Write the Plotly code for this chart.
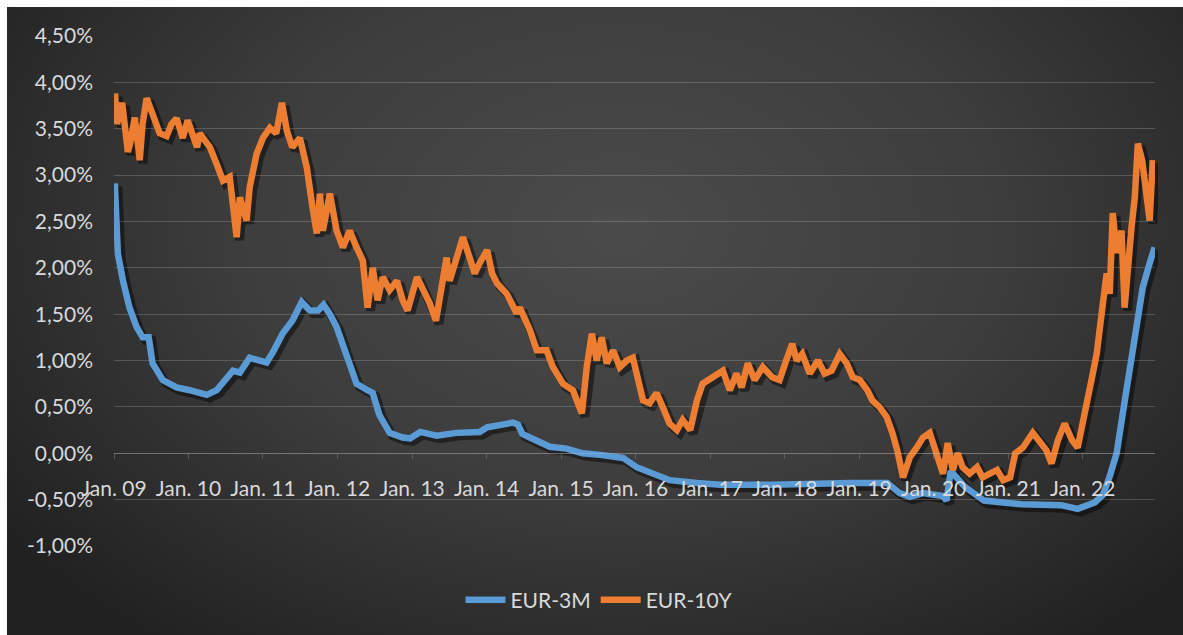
import base64
import plotly.graph_objects as go

# EUR 3-month rate (% p.a.)
eur3m_dates = [
    "2009-01-05", "2009-01-20", "2009-02-14", "2009-03-18", "2009-04-22", "2009-05-21",
    "2009-06-20", "2009-07-09", "2009-08-28", "2009-11-04", "2010-01-07", "2010-04-01",
    "2010-05-19", "2010-07-07", "2010-08-07", "2010-09-10", "2010-10-28", "2010-12-16",
    "2011-01-19", "2011-02-19", "2011-04-07", "2011-05-25", "2011-07-10", "2011-08-19",
    "2011-09-28", "2011-10-25", "2011-11-25", "2011-12-28", "2012-02-16", "2012-04-04",
    "2012-05-28", "2012-06-22", "2012-07-25", "2012-09-13", "2012-11-16", "2012-12-22",
    "2013-02-10", "2013-05-01", "2013-08-07", "2013-11-28", "2014-01-04", "2014-03-19",
    "2014-05-10", "2014-06-04", "2014-06-25", "2014-08-01", "2014-09-19", "2014-11-07",
    "2015-01-28", "2015-04-16", "2015-07-22", "2015-11-01", "2016-01-07", "2016-03-25",
    "2016-06-16", "2016-10-28", "2017-02-19", "2017-11-01", "2018-03-16", "2018-11-16",
    "2019-05-19", "2019-07-19", "2019-09-07", "2019-11-10", "2020-02-16", "2020-03-04",
    "2020-03-25", "2020-06-01", "2020-09-04", "2021-03-07", "2021-09-16", "2021-12-07",
    "2022-03-01", "2022-04-10", "2022-05-13", "2022-06-16", "2022-07-16", "2022-08-19",
    "2022-09-22", "2022-10-22", "2022-11-25", "2022-12-19",
]
eur3m_values = [
    2.91, 2.15, 1.86, 1.57, 1.36, 1.25,
    1.25, 0.97, 0.79, 0.71, 0.68, 0.63,
    0.68, 0.82, 0.89, 0.87, 1.03, 1.00,
    0.98, 1.09, 1.29, 1.43, 1.63, 1.54,
    1.54, 1.60, 1.50, 1.36, 1.03, 0.75,
    0.68, 0.65, 0.41, 0.22, 0.17, 0.16,
    0.23, 0.19, 0.22, 0.23, 0.28, 0.30,
    0.33, 0.31, 0.21, 0.17, 0.11, 0.07,
    0.05, 0.00, -0.02, -0.05, -0.15, -0.22,
    -0.29, -0.32, -0.34, -0.34, -0.33, -0.32,
    -0.32, -0.43, -0.47, -0.43, -0.46, -0.51,
    -0.19, -0.36, -0.51, -0.55, -0.56, -0.60,
    -0.53, -0.45, -0.25, 0.00, 0.43, 0.93,
    1.43, 1.79, 2.05, 2.22,
]

# EUR 10-year rate (% p.a.)
eur10y_dates = [
    "2009-01-06", "2009-01-16", "2009-02-10", "2009-03-10", "2009-03-22", "2009-04-13",
    "2009-05-07", "2009-05-21", "2009-06-10", "2009-07-10", "2009-08-13", "2009-09-16",
    "2009-10-10", "2009-11-04", "2009-12-04", "2009-12-28", "2010-02-12", "2010-02-25",
    "2010-04-16", "2010-05-19", "2010-06-19", "2010-07-22", "2010-08-25", "2010-09-10",
    "2010-10-13", "2010-10-28", "2010-12-01", "2011-01-01", "2011-02-04", "2011-03-07",
    "2011-04-04", "2011-04-28", "2011-05-25", "2011-07-01", "2011-08-04", "2011-09-01",
    "2011-09-22", "2011-10-07", "2011-10-22", "2011-11-25", "2011-12-28", "2012-01-28",
    "2012-03-01", "2012-04-04", "2012-05-04", "2012-05-28", "2012-06-22", "2012-07-16",
    "2012-08-10", "2012-09-13", "2012-10-19", "2012-11-16", "2012-12-10", "2013-01-25",
    "2013-02-25", "2013-03-28", "2013-04-28", "2013-06-01", "2013-06-19", "2013-07-04",
    "2013-08-07", "2013-09-07", "2013-10-10", "2013-11-04", "2013-11-28", "2014-01-04",
    "2014-01-28", "2014-02-22", "2014-04-10", "2014-05-28", "2014-06-13", "2014-08-01",
    "2014-09-04", "2014-10-22", "2014-11-22", "2015-01-10", "2015-02-28", "2015-04-13",
    "2015-05-07", "2015-06-01", "2015-06-25", "2015-07-19", "2015-08-13", "2015-09-13",
    "2015-10-16", "2015-11-19", "2015-12-19", "2016-01-13", "2016-02-07", "2016-03-10",
    "2016-04-13", "2016-05-13", "2016-06-16", "2016-07-22", "2016-08-19", "2016-09-25",
    "2016-10-28", "2016-11-25", "2017-01-16", "2017-03-04", "2017-04-07", "2017-05-10",
    "2017-06-04", "2017-07-04", "2017-08-07", "2017-09-16", "2017-11-01", "2017-12-07",
    "2018-01-13", "2018-02-07", "2018-03-01", "2018-03-28", "2018-05-04", "2018-06-13",
    "2018-07-16", "2018-08-19", "2018-09-28", "2018-11-01", "2018-12-01", "2019-01-04",
    "2019-02-10", "2019-03-07", "2019-04-10", "2019-05-16", "2019-06-13", "2019-07-07",
    "2019-08-04", "2019-09-07", "2019-10-10", "2019-11-10", "2019-12-13", "2020-01-16",
    "2020-02-16", "2020-03-10", "2020-04-04", "2020-04-28", "2020-05-22", "2020-06-25",
    "2020-08-01", "2020-08-28", "2020-10-04", "2020-11-07", "2020-12-07", "2021-01-10",
    "2021-02-04", "2021-03-13", "2021-05-01", "2021-06-04", "2021-07-07", "2021-08-01",
    "2021-09-01", "2021-10-04", "2021-11-10", "2021-12-07", "2022-01-01", "2022-01-25",
    "2022-02-19", "2022-03-10", "2022-03-25", "2022-04-10", "2022-04-28", "2022-05-13",
    "2022-05-28", "2022-06-16", "2022-07-10", "2022-07-25", "2022-08-10", "2022-08-28",
    "2022-09-13", "2022-09-28", "2022-10-19", "2022-11-01", "2022-11-25", "2022-12-10",
]
eur10y_values = [
    3.88, 3.55, 3.78, 3.25, 3.35, 3.62,
    3.16, 3.55, 3.83, 3.66, 3.45, 3.42,
    3.55, 3.61, 3.40, 3.59, 3.30, 3.45,
    3.30, 3.12, 2.94, 2.98, 2.33, 2.76,
    2.51, 2.87, 3.23, 3.40, 3.51, 3.45,
    3.78, 3.48, 3.30, 3.40, 3.08, 2.65,
    2.37, 2.80, 2.40, 2.80, 2.40, 2.22,
    2.40, 2.22, 2.08, 1.57, 2.00, 1.65,
    1.90, 1.76, 1.86, 1.65, 1.54, 1.90,
    1.76, 1.62, 1.43, 1.86, 2.11, 1.86,
    2.11, 2.33, 2.11, 1.94, 2.05, 2.19,
    1.94, 1.83, 1.72, 1.51, 1.57, 1.33,
    1.11, 1.11, 0.93, 0.75, 0.68, 0.43,
    0.93, 1.29, 1.00, 1.25, 0.97, 1.11,
    0.93, 1.00, 1.03, 0.79, 0.57, 0.54,
    0.65, 0.50, 0.32, 0.25, 0.36, 0.25,
    0.57, 0.75, 0.82, 0.89, 0.68, 0.86,
    0.71, 0.97, 0.79, 0.93, 0.82, 0.79,
    1.03, 1.18, 1.00, 1.07, 0.86, 1.00,
    0.86, 0.89, 1.07, 0.97, 0.82, 0.79,
    0.68, 0.57, 0.50, 0.39, 0.22, 0.03,
    -0.26, -0.04, 0.06, 0.17, 0.22, 0.00,
    -0.22, 0.11, -0.18, 0.00, -0.15, -0.22,
    -0.15, -0.26, -0.22, -0.18, -0.29, -0.26,
    0.00, 0.06, 0.22, 0.11, 0.03, -0.11,
    0.14, 0.32, 0.14, 0.06, 0.36, 0.60,
    0.86, 1.07, 1.36, 1.62, 1.94, 1.72,
    2.59, 2.16, 2.40, 1.57, 2.05, 2.44,
    2.76, 3.34, 3.16, 2.87, 2.51, 3.16,
]

year_ticks = [f"{y}-01-01" for y in range(2009, 2023)]
year_labels = [f"Jan. {y % 100:02d}" for y in range(2009, 2023)]
pct_ticks = [-1.0, -0.5, 0.0, 0.5, 1.0, 1.5, 2.0, 2.5, 3.0, 3.5, 4.0, 4.5]
pct_labels = [f"{v:.2f}".replace(".", ",") + "%" for v in pct_ticks]

BLUE = "#5B9BD5"
ORANGE = "#ED7D31"
TEXT = "#D9D9D9"
GRID = "rgba(217,217,217,0.22)"
FONT = "Lato"

W, H = 1183, 635
ML, MR, MT, MB = 114, 25, 36, 86
PW, PH = W - ML - MR, H - MT - MB      # 1044 x 513
SHIFT_X, SHIFT_Y = 3, 3                # drop-shadow offset in px

x_range = ["2009-01-01", "2022-12-21"]
y_range = [-1.0, 4.5]

# dark radial backdrop
bg_w, bg_h = W - 7, H - 7
svg = f"""<svg xmlns='http://www.w3.org/2000/svg' width='{bg_w}' height='{bg_h}' viewBox='0 0 {bg_w} {bg_h}' preserveAspectRatio='none'>
<defs><radialGradient id='g' gradientUnits='userSpaceOnUse' cx='0' cy='0' r='1'
 gradientTransform='translate(613,223) scale(760,520)'>
<stop offset='0' stop-color='#4b4b4b'/><stop offset='0.5' stop-color='#3d3d3d'/>
<stop offset='1' stop-color='#212121'/></radialGradient></defs>
<rect width='{bg_w}' height='{bg_h}' fill='url(#g)'/></svg>"""
bg_src = "data:image/svg+xml;base64," + base64.b64encode(svg.encode()).decode()

fig = go.Figure()

# soft shadows under the lines (slightly offset subplot)
for d, v in ((eur3m_dates, eur3m_values), (eur10y_dates, eur10y_values)):
    fig.add_trace(go.Scatter(
        x=d, y=v, mode="lines", xaxis="x", yaxis="y",
        line=dict(color="rgba(0,0,0,0.45)", width=9),
        showlegend=False, hoverinfo="skip",
    ))

fig.add_trace(go.Scatter(
    x=eur3m_dates, y=eur3m_values, mode="lines", name="EUR-3M",
    xaxis="x2", yaxis="y2", line=dict(color=BLUE, width=6.5),
))
fig.add_trace(go.Scatter(
    x=eur10y_dates, y=eur10y_values, mode="lines", name="EUR-10Y",
    xaxis="x2", yaxis="y2", line=dict(color=ORANGE, width=6.5),
))

fig.update_layout(
    width=W, height=H,
    margin=dict(l=ML, r=MR, t=MT, b=MB, pad=0),
    paper_bgcolor="white",
    plot_bgcolor="rgba(0,0,0,0)",
    font=dict(family=FONT, size=21, color=TEXT),
    xaxis=dict(domain=[SHIFT_X / PW, 1], range=x_range, type="date",
               visible=False, anchor="y", fixedrange=True),
    yaxis=dict(domain=[0, 1 - SHIFT_Y / PH], range=y_range,
               visible=False, anchor="x", fixedrange=True),
    xaxis2=dict(
        domain=[0, 1 - SHIFT_X / PW], range=x_range, type="date",
        anchor="free", position=(PH - (453 - MT)) / PH,
        showgrid=False, zeroline=False,
        showline=True, linecolor=GRID, linewidth=1,
        ticks="outside", ticklen=5, tickcolor=GRID, tickwidth=1,
        tickvals=year_ticks, ticktext=year_labels,
        tickfont=dict(family=FONT, size=21, color=TEXT),
        ticklabelstandoff=12, fixedrange=True,
    ),
    yaxis2=dict(
        domain=[SHIFT_Y / PH, 1], range=y_range, anchor="x2",
        tickvals=pct_ticks, ticktext=pct_labels,
        showgrid=True, gridcolor=GRID, gridwidth=1,
        zeroline=False, showline=False, ticks="",
        tickfont=dict(family=FONT, size=21, color=TEXT),
        ticklabelstandoff=20, fixedrange=True,
    ),
    legend=dict(
        orientation="h", x=0.465, xanchor="center",
        y=-(600 - (MT + PH)) / PH, yanchor="middle",
        bgcolor="rgba(0,0,0,0)", font=dict(family=FONT, size=21, color=TEXT),
        itemwidth=40,
    ),
    images=[dict(
        source=bg_src, xref="paper", yref="paper",
        x=(7 - ML) / PW, y=(MT + PH - 7) / PH,
        sizex=bg_w / PW, sizey=bg_h / PH,
        xanchor="left", yanchor="top", sizing="stretch", layer="below",
    )],
    showlegend=True,
    hovermode=False,
)

fig.write_html("out.html", config={"displayModeBar": False, "staticPlot": True})
